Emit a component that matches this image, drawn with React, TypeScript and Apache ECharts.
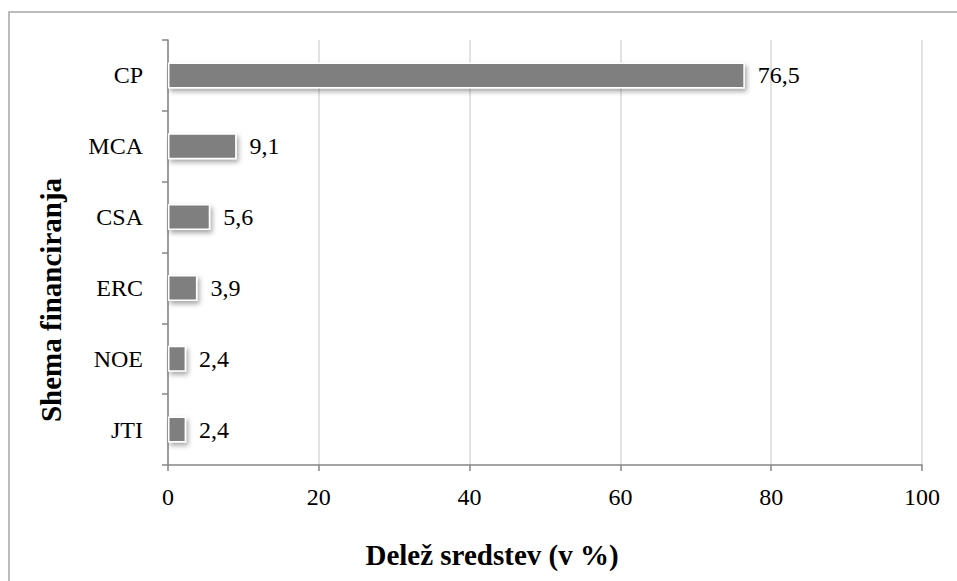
import React, { useEffect, useRef } from "react";
import * as echarts from "echarts";

// Funding schemes and their share of funds (in %)
const schemes: string[] = ["CP", "MCA", "CSA", "ERC", "NOE", "JTI"];
const shares: number[] = [76.5, 9.1, 5.6, 3.9, 2.4, 2.4];

const xTitle = "Delež sredstev (v %)";
const yTitle = "Shema financiranja";

const FONT = "'Liberation Serif', 'Times New Roman', serif";

export default function App() {
  const ref = useRef<HTMLDivElement>(null);

  useEffect(() => {
    if (!ref.current) return;
    const chart = echarts.init(ref.current, undefined, { renderer: "svg" });
    chart.setOption({
      animation: false,
      backgroundColor: "#ffffff",
      grid: { left: 168, right: 35, top: 40, bottom: 116, containLabel: false },
      xAxis: {
        type: "value",
        min: 0,
        max: 100,
        interval: 20,
        axisLine: { show: true, lineStyle: { color: "#868686", width: 1.5 } },
        axisTick: { show: true, length: 6, lineStyle: { color: "#868686", width: 1.5 } },
        axisLabel: { color: "#000", fontFamily: FONT, fontSize: 24, margin: 20 },
        splitLine: { show: true, lineStyle: { color: "#d9d9d9", width: 1.5 } },
      },
      yAxis: {
        type: "category",
        data: schemes,
        inverse: true,
        axisLine: { show: true, lineStyle: { color: "#868686", width: 1.5 } },
        axisTick: { show: true, length: 6, lineStyle: { color: "#868686", width: 1.5 } },
        axisLabel: { color: "#000", fontFamily: FONT, fontSize: 24, margin: 25 },
        splitLine: { show: false },
      },
      series: [
        {
          type: "bar",
          data: shares,
          barWidth: 26,
          itemStyle: {
            color: "#7f7f7f",
            borderColor: "#ffffff",
            borderWidth: 1.5,
            shadowColor: "rgba(0,0,0,0.35)",
            shadowBlur: 5,
            shadowOffsetX: 2,
            shadowOffsetY: 3,
          },
          label: {
            show: true,
            position: "right",
            distance: 13,
            color: "#000",
            fontFamily: FONT,
            fontSize: 24,
            formatter: (p: any) => Number(p.value).toFixed(1).replace(".", ","),
          },
        },
      ],
      graphic: [
        {
          type: "rect",
          shape: { x: 9, y: 12, width: 980, height: 600 },
          style: { fill: "none", stroke: "#a6a6a6", lineWidth: 1.5 },
          silent: true,
          z: -10,
        },
        {
          type: "text",
          x: 492,
          y: 555,
          style: {
            text: xTitle,
            fontFamily: FONT,
            fontSize: 29,
            fontWeight: "bold",
            fill: "#000",
            align: "center",
            verticalAlign: "middle",
          },
        },
        {
          type: "text",
          x: 51,
          y: 300,
          rotation: Math.PI / 2,
          style: {
            text: yTitle,
            fontFamily: FONT,
            fontSize: 29,
            fontWeight: "bold",
            fill: "#000",
            align: "center",
            verticalAlign: "middle",
          },
        },
      ],
    });
    return () => chart.dispose();
  }, []);

  return (
    <div
      ref={ref}
      style={{ position: "fixed", left: 0, top: 0, width: 957, height: 581 }}
    />
  );
}
